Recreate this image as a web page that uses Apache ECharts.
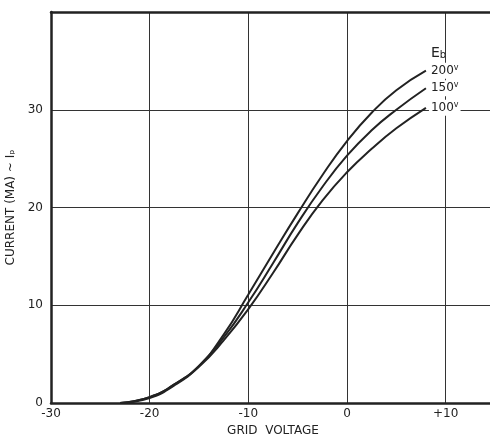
<!DOCTYPE html>
<html>
<head>
<meta charset="utf-8">
<style>
  html, body { margin: 0; padding: 0; background: #fff; }
  #chart { width: 490px; height: 434px; }
</style>
<script src="https://cdn.jsdelivr.net/npm/echarts@6/dist/echarts.min.js"></script>
</head>
<body>
<div id="chart"></div>
<script>
// grid voltage (V)
const gridVoltage = [-23, -20, -17.5, -15, -12.5, -10, -7.5, -5, -2.5, 0, 2.5, 5, 8]
// plate current (mA) for each plate voltage Eb
const plate200 = [0, 0.6, 1.9, 3.8, 7.0, 11.1, 15.3, 19.4, 23.3, 26.8, 29.7, 32.0, 34.0]
const plate150 = [0, 0.6, 1.9, 3.8, 6.7, 10.3, 14.3, 18.4, 22.1, 25.3, 27.9, 30.0, 32.2]
const plate100 = [0, 0.5, 1.8, 3.7, 6.4, 9.6, 13.3, 17.2, 20.7, 23.6, 26.0, 28.1, 30.2]
const curveNames = ['200', '150', '100']

const ink = '#222'
const font = 'DejaVu Sans'

function pairs (ys) {
  return gridVoltage.map((x, i) => [x, ys[i]])
}

function curve (name, ys) {
  return {
    name: name,
    type: 'line',
    smooth: 0.5,
    symbol: 'none',
    data: pairs(ys),
    lineStyle: { color: ink, width: 2 },
    endLabel: {
      show: true,
      formatter: '{n|' + name + '}{v|v}',
      distance: 3,
      backgroundColor: '#fff',
      padding: [1, 2],
      rich: {
        n: { fontFamily: font, fontSize: 12, color: ink },
        v: { fontFamily: font, fontSize: 8, color: ink, verticalAlign: 'top', padding: [0, 0, 6, 0] }
      }
    }
  }
}

const chart = echarts.init(document.getElementById('chart'))
chart.setOption({
  animation: false,
  backgroundColor: '#fff',
  grid: { left: 51, top: 12, right: -5, bottom: 31, outerBoundsMode: 'none', containLabel: false },
  xAxis: [{
    type: 'value',
    min: -30,
    max: 15,
    interval: 10,
    name: 'GRID  VOLTAGE',
    nameLocation: 'middle',
    nameGap: 17,
    nameTextStyle: { fontFamily: font, fontSize: 12, color: ink },
    axisLine: { onZero: false, lineStyle: { color: ink, width: 2.5 } },
    axisTick: { show: false },
    axisLabel: {
      fontFamily: font,
      fontSize: 12,
      color: ink,
      margin: 5,
      showMaxLabel: false,
      formatter: v => (v > 10 ? '' : v > 0 ? '+' + v : String(v))
    },
    splitLine: { show: true, lineStyle: { color: '#333', width: 1 } }
  }, {
    type: 'value',
    position: 'top',
    min: -30,
    max: 15,
    axisLine: { show: true, onZero: false, lineStyle: { color: ink, width: 2.5 } },
    axisTick: { show: false },
    axisLabel: { show: false },
    splitLine: { show: false }
  }],
  yAxis: {
    type: 'value',
    min: 0,
    max: 40,
    interval: 10,
    name: 'CURRENT (MA) ~ Iₚ',
    nameLocation: 'middle',
    nameGap: 32,
    nameTextStyle: { fontFamily: font, fontSize: 12, color: ink },
    axisLine: { show: true, onZero: false, lineStyle: { color: ink, width: 2.5 } },
    axisTick: { show: false },
    axisLabel: {
      fontFamily: font,
      fontSize: 12,
      color: ink,
      margin: 8,
      formatter: v => (v >= 40 ? '' : String(v))
    },
    splitLine: { show: true, lineStyle: { color: '#333', width: 1 } }
  },
  graphic: [{
    type: 'text',
    left: 431,
    top: 46,
    style: {
      text: '{e|E}{b|b}',
      rich: {
        e: { fontFamily: font, fontSize: 14, fill: ink },
        b: { fontFamily: font, fontSize: 10, fill: ink, verticalAlign: 'bottom', padding: [4, 0, 0, 0] }
      }
    }
  }],
  series: [
    curve(curveNames[0], plate200),
    curve(curveNames[1], plate150),
    curve(curveNames[2], plate100)
  ]
})
</script>
</body>
</html>
